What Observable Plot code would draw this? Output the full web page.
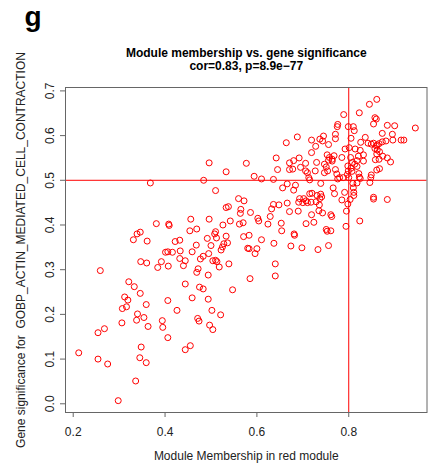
<!DOCTYPE html>
<html>
<head>
<meta charset="utf-8">
<script src="https://cdn.jsdelivr.net/npm/d3@7"></script>
<script src="https://cdn.jsdelivr.net/npm/@observablehq/plot@0.6"></script>
<style>
  html, body { margin: 0; padding: 0; background: #fff; }
</style>
</head>
<body>
<div id="chart"></div>
<script>
// Module membership (x) and gene significance (y)
const moduleMembership = [
  0.861,0.845,0.823,0.789,0.857,0.860,0.854,0.884,0.900,0.945,
  0.776,0.775,0.799,0.810,0.812,0.771,0.771,0.805,0.826,0.836,
  0.842,0.849,0.854,0.860,0.862,0.866,0.873,0.881,0.873,0.895,
  0.896,0.914,0.920,0.792,0.801,0.814,0.825,0.857,0.862,0.867,
  0.861,0.858,0.866,0.884,0.891,0.874,0.821,0.832,0.832,0.804,
  0.808,0.818,0.813,0.785,0.768,0.764,0.764,0.798,0.805,0.799,
  0.807,0.797,0.818,0.822,0.823,0.825,0.849,0.848,0.861,0.867,
  0.771,0.774,0.780,0.776,0.788,0.800,0.809,0.818,0.810,0.811,
  0.811,0.803,0.846,0.854,0.854,0.884,0.824,0.794,0.795,0.798,
  0.785,0.791,0.769,0.766,0.761,0.763,0.751,0.753,0.761,0.756,
  // middle
  0.745,0.688,0.664,0.719,0.737,0.743,0.756,0.728,0.719,0.753,
  0.758,0.756,0.747,0.706,0.730,0.692,0.680,0.671,0.642,0.577,
  0.645,0.671,0.678,0.695,0.706,0.710,0.727,0.751,0.754,0.747,
  0.594,0.610,0.636,0.713,0.715,0.666,0.684,0.656,0.680,0.739,
  // lower middle
  0.693,0.702,0.691,0.700,0.707,0.710,0.718,0.715,0.720,0.731,
  0.739,0.741,0.737,0.729,0.736,0.666,0.636,0.648,0.632,0.671,
  0.690,0.719,0.735,0.743,0.629,0.624,0.653,0.707,0.724,0.654,
  0.681,0.682,0.610,0.637,0.674,0.698,0.733,0.640,0.640,
  // left
  0.496,0.533,0.484,0.368,0.510,0.560,0.572,0.533,0.538,0.565,
  0.564,0.586,0.602,0.456,0.496,0.542,0.526,0.562,0.570,0.604,
  0.381,0.408,0.409,0.454,0.469,0.510,0.508,0.512,0.492,0.533,
  0.571,0.583,0.331,0.339,0.346,0.361,0.422,0.432,0.468,0.500,
  0.536,0.528,0.525,0.522,0.580,0.583,0.600,0.596,
  // lower left
  0.401,0.406,0.416,0.433,0.459,0.347,0.360,0.392,0.384,0.407,
  0.432,0.444,0.440,0.477,0.483,0.495,0.504,0.510,0.513,0.518,
  0.539,0.472,0.469,0.494,0.259,0.321,0.333,0.346,0.444,0.475,
  0.483,0.547,0.585,0.312,0.319,0.307,0.316,0.359,0.406,0.459,
  0.494,0.340,0.338,0.354,0.363,0.306,0.394,0.395,0.426,0.471,
  0.474,0.502,0.521,0.497,0.504,0.254,0.268,0.406,0.348,0.444,
  0.455,0.212,0.254,0.275,0.345,0.359,0.336,0.298
];
const geneSignificance = [
  0.681,0.670,0.651,0.647,0.640,0.637,0.626,0.623,0.622,0.617,
  0.625,0.620,0.620,0.620,0.611,0.603,0.593,0.594,0.585,0.596,
  0.583,0.581,0.583,0.577,0.579,0.582,0.586,0.588,0.605,0.603,
  0.590,0.590,0.590,0.570,0.573,0.570,0.567,0.571,0.568,0.564,
  0.559,0.546,0.547,0.550,0.541,0.554,0.554,0.557,0.543,0.551,
  0.540,0.544,0.536,0.551,0.555,0.547,0.543,0.532,0.527,0.521,
  0.520,0.513,0.531,0.515,0.507,0.504,0.512,0.506,0.523,0.526,
  0.524,0.514,0.506,0.503,0.506,0.506,0.493,0.494,0.483,0.473,
  0.466,0.457,0.495,0.462,0.458,0.457,0.409,0.397,0.431,0.447,
  0.456,0.473,0.470,0.483,0.423,0.419,0.390,0.386,0.387,0.354,
  // middle
  0.599,0.597,0.584,0.590,0.592,0.588,0.580,0.576,0.562,0.557,
  0.551,0.545,0.536,0.538,0.540,0.550,0.544,0.539,0.550,0.538,
  0.524,0.524,0.525,0.529,0.521,0.517,0.521,0.530,0.521,0.517,
  0.509,0.503,0.502,0.506,0.501,0.492,0.489,0.483,0.478,0.493,
  // lower middle
  0.459,0.459,0.451,0.450,0.454,0.450,0.451,0.470,0.471,0.466,
  0.469,0.463,0.459,0.452,0.445,0.449,0.446,0.445,0.436,0.430,
  0.431,0.423,0.432,0.427,0.419,0.402,0.404,0.403,0.406,0.387,
  0.380,0.377,0.367,0.359,0.353,0.349,0.345,0.313,0.286,
  // left
  0.539,0.519,0.500,0.494,0.477,0.459,0.454,0.439,0.441,0.435,
  0.426,0.428,0.415,0.413,0.413,0.409,0.400,0.402,0.405,0.409,
  0.403,0.402,0.399,0.387,0.391,0.385,0.380,0.371,0.370,0.375,
  0.374,0.377,0.367,0.380,0.384,0.364,0.363,0.366,0.355,0.354,
  0.360,0.358,0.351,0.344,0.348,0.347,0.347,0.336,
  // lower left
  0.339,0.340,0.339,0.342,0.340,0.318,0.315,0.318,0.305,0.308,
  0.325,0.320,0.309,0.324,0.330,0.336,0.320,0.321,0.318,0.306,
  0.313,0.302,0.294,0.288,0.298,0.273,0.262,0.247,0.268,0.261,
  0.257,0.255,0.280,0.239,0.232,0.213,0.217,0.222,0.231,0.237,
  0.234,0.201,0.187,0.193,0.173,0.181,0.186,0.171,0.209,0.191,
  0.185,0.209,0.199,0.176,0.166,0.159,0.168,0.148,0.127,0.121,
  0.130,0.114,0.100,0.089,0.103,0.092,0.051,0.007
];
const xTicks = [0.2, 0.4, 0.6, 0.8];
const yTicks = [0.0, 0.1, 0.2, 0.3, 0.4, 0.5, 0.6, 0.7];
const panelLetter = "g";
const titleLines = ["Module membership vs. gene significance", "cor=0.83, p=8.9e\u221277"];
const xLabel = "Module Membership in red module";
const yLabel = "Gene significance for\u00a0 GOBP_ACTIN_MEDIATED_CELL_CONTRACTION";
const thresholdMM = 0.8;
const thresholdGS = 0.5;

const points = moduleMembership.map((x, i) => ({x, y: geneSignificance[i]}));
const fmt = d3.format(".1f");
const axisColor = "#666";
const textColor = "#222";

const chart = Plot.plot({
  width: 428,
  height: 463,
  marginLeft: 65,
  marginRight: 1.5,
  marginTop: 87,
  marginBottom: 51,
  style: {fontFamily: "'Liberation Sans', Arial, sans-serif", fontSize: "12px", background: "#fff", color: textColor, overflow: "visible"},
  x: {domain: [0.1832, 0.9704], label: null},
  y: {domain: [-0.0195, 0.7076], label: null},
  marks: [
    Plot.axisX({ticks: xTicks, tickSize: 5, tickPadding: 10, tickFormat: fmt, stroke: axisColor, fill: textColor, fontSize: 12, label: null}),
    Plot.axisY({ticks: yTicks, tickSize: 5, tickFormat: () => "", stroke: axisColor, label: null}),
    Plot.text(yTicks, {y: d => d, text: d => fmt(d), frameAnchor: "left", dx: -15, rotate: -90, textAnchor: "middle", lineAnchor: "middle", fill: textColor, fontSize: 12}),
    Plot.dot(points, {x: "x", y: "y", r: 3, stroke: "red", strokeWidth: 1, fill: "none"}),
    Plot.ruleY([thresholdGS], {stroke: "red", strokeWidth: 1}),
    Plot.ruleX([thresholdMM], {stroke: "red", strokeWidth: 1}),
    Plot.frame({stroke: axisColor, strokeWidth: 1}),
    Plot.text([titleLines[0]], {frameAnchor: "top", dy: -34, textAnchor: "middle", lineAnchor: "middle", fontWeight: "bold", fontSize: 12, fill: "#000"}),
    Plot.text([titleLines[1]], {frameAnchor: "top", dy: -21, textAnchor: "middle", lineAnchor: "middle", fontWeight: "bold", fontSize: 12, fill: "#000"}),
    Plot.text([panelLetter], {frameAnchor: "top-left", dx: -32.5, dy: -70, textAnchor: "middle", lineAnchor: "middle", fontWeight: "bold", fontSize: 28, fill: "#000"}),
    Plot.text([xLabel], {frameAnchor: "bottom", dy: 44, textAnchor: "middle", lineAnchor: "middle", fontSize: 12, fill: textColor}),
    Plot.text([yLabel], {frameAnchor: "left", dx: -44, rotate: -90, textAnchor: "middle", lineAnchor: "middle", fontSize: 12, fill: textColor})
  ]
});
document.getElementById("chart").append(chart);
</script>
</body>
</html>
